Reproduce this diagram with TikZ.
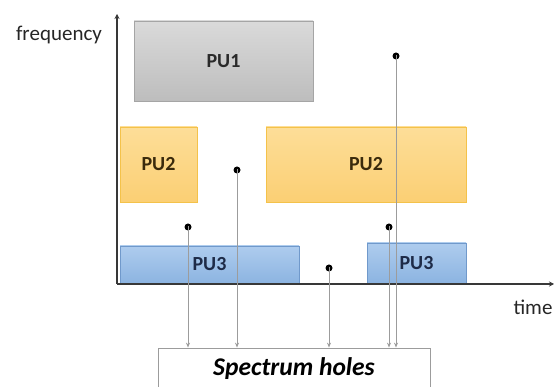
\documentclass[tikz,border=0pt]{standalone}
\usepackage{fontspec}
\setmainfont{Carlito}
\usetikzlibrary{arrows.meta}

\definecolor{axiscol}{HTML}{383838}
\definecolor{linkcol}{HTML}{9C9C9C}
\definecolor{puoneTop}{HTML}{DADADA}
\definecolor{puoneBot}{HTML}{BDBDBD}
\definecolor{puoneLine}{HTML}{A5A5A5}
\definecolor{puoneText}{HTML}{2A2A2A}
\definecolor{putwoTop}{HTML}{FDDE98}
\definecolor{putwoBot}{HTML}{FBCF74}
\definecolor{putwoLine}{HTML}{F4C24A}
\definecolor{putwoText}{HTML}{3A2A0C}
\definecolor{puthreeTop}{HTML}{AECCEE}
\definecolor{puthreeBot}{HTML}{8CB4E1}
\definecolor{puthreeLine}{HTML}{7099CB}
\definecolor{puthreeText}{HTML}{1E2B48}

\begin{document}
\begin{tikzpicture}[x=1pt,y=-1pt,
  pubox/.style={rectangle, line width=0.8pt, inner sep=0pt,
    font=\bfseries\fontsize{20}{24}\selectfont},
  puone/.style={pubox, draw=puoneLine, top color=puoneTop, bottom color=puoneBot, text=puoneText},
  putwo/.style={pubox, draw=putwoLine, top color=putwoTop, bottom color=putwoBot, text=putwoText},
  puthree/.style={pubox, draw=puthreeLine, top color=puthreeTop, bottom color=puthreeBot, text=puthreeText},
  hole/.style={circle, fill=black, minimum size=7pt, inner sep=0pt},
  holelink/.style={draw=linkcol, line width=0.9pt,
    -{Stealth[length=5pt,width=4pt]}, shorten <=-1pt},
  axis/.style={draw=axiscol, line width=1.6pt, -{Stealth[length=5pt,width=5pt]}},
  axislabel/.style={font=\fontsize{21}{25}\selectfont, text=black!85}
]
\useasboundingbox (0,0) rectangle (555,387);

% occupied bands of the primary users
\node[puone, minimum width=179pt, minimum height=80pt] (pu1) at (223.5,61) {PU1};
\node[putwo, minimum width=77pt, minimum height=75pt] (pu2a) at (158.5,164.5) {PU2};
\node[putwo, minimum width=200pt, minimum height=75pt] (pu2b) at (366,164.5) {PU2};
\node[puthree, minimum width=179pt, minimum height=37pt] (pu3a) at (209.5,264.5) {PU3};
\node[puthree, minimum width=99pt, minimum height=40pt] (pu3b) at (416.5,263) {PU3};

% axes
\coordinate (origin) at (117,284);
\coordinate (ytop) at (117,14);
\coordinate (xend) at (554,284);
\draw[axis] (origin) -- (ytop);
\draw[axis] (origin) -- (xend);
\node[axislabel] (freq) at (59,35) {frequency};
\node[axislabel] (time) at (533,307) {time};

% collecting box
\node[draw=linkcol, line width=0.8pt, minimum width=272pt, minimum height=42pt,
      font=\bfseries\itshape\fontsize{25.5}{30}\selectfont] (holes) at (294,369) {Spectrum holes};

% free spots in the time-frequency plane
\node[hole] (h1) at (188,227) {};
\node[hole] (h2) at (237,170) {};
\node[hole] (h3) at (329,268) {};
\node[hole] (h4) at (389,227) {};
\node[hole] (h5) at (396,56) {};

\foreach \h in {h1,h2,h3,h4,h5}
  \draw[holelink] (\h.center) -- (\h |- holes.north);
\end{tikzpicture}
\end{document}
